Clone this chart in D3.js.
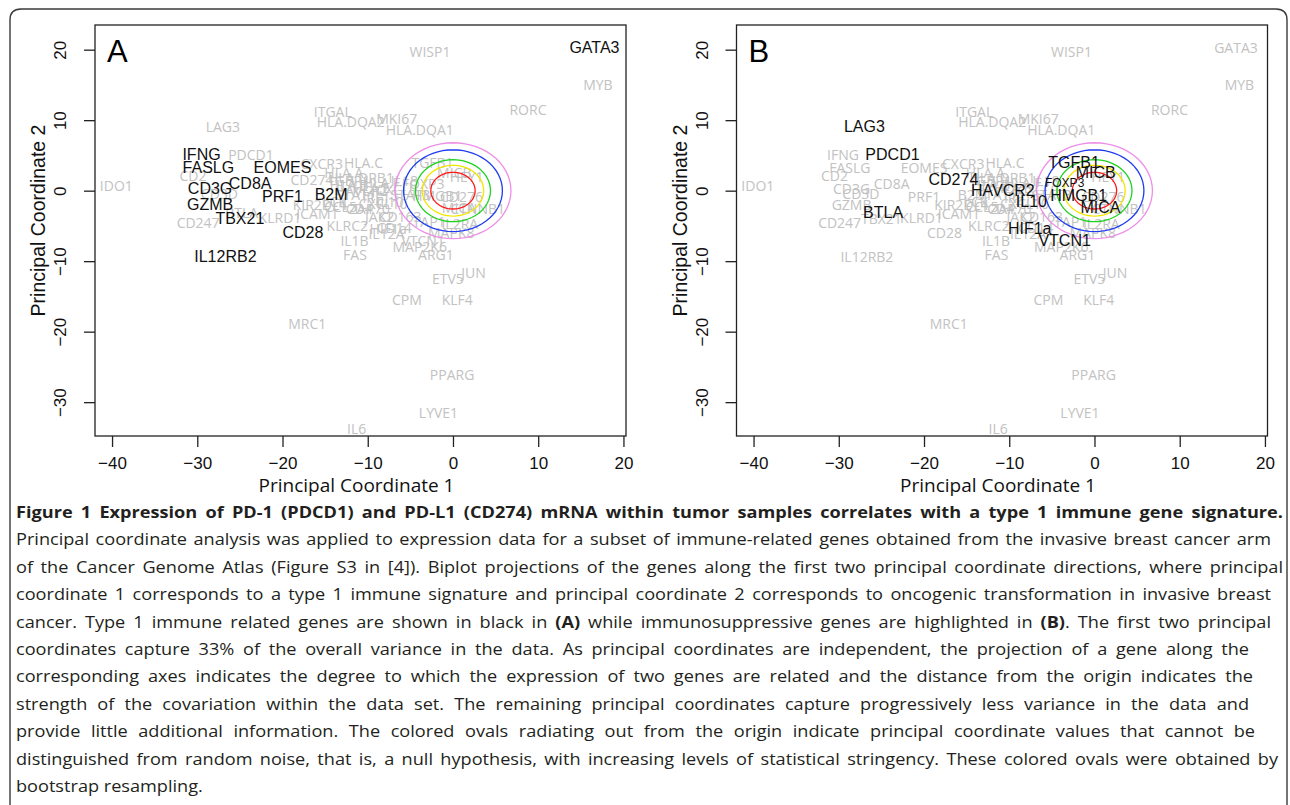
<!DOCTYPE html>
<html>
<head>
<meta charset="utf-8">
<script src="https://cdn.jsdelivr.net/npm/d3@7"></script>
<style>
  body { margin: 0; background: #fff; }
</style>
</head>
<body>
<svg id="fig" width="1290" height="805"></svg>
<script>
// axis ranges and ticks (R style, 4% padding)
const xDomain = [-42.0, 20.3]
const yDomain = [-34.8, 23.5]
const xTicks = [-40, -30, -20, -10, 0, 10, 20]
const yTicks = [-30, -20, -10, 0, 10, 20]

// gene projections on principal coordinates 1 and 2
const geneNames = [
  "IDO1", "LAG3", "IFNG", "PDCD1", "FASLG", "EOMES", "CD2", "CD8A", "CD3G", "CD3D",
  "GZMB", "BTLA", "TBX21", "CD247", "KLRD1", "PRF1", "CD28", "IL12RB2", "CD274", "CXCR3",
  "HLA.C", "HLA.A", "HLA.DRB1", "B2M", "ICAM1", "HAVCR2", "IL10", "HLA.B", "HLA.E", "HLA.F",
  "STAT1", "IRF1", "CXCL9", "CXCL10", "GBP1", "KIR2DL4", "CCL5", "CD4", "LCK", "ZAP70",
  "JAK2", "CD163", "IL18", "STAT3", "KLRC2", "IL1B", "FAS", "HIF1a", "IL12A", "CD14",
  "VTCN1", "MAP2K6", "MAPK8", "ARG1", "TAP1", "IL2RA", "TGFB1", "MICB", "FOXP3", "HMGB1",
  "MICA", "HEY1", "CD276", "CTNNB1", "ITGAL", "HLA.DQA2", "MKI67", "HLA.DQA1", "WISP1", "GATA3",
  "MYB", "RORC", "JUN", "ETV5", "CPM", "KLF4", "MRC1", "PPARG", "LYVE1", "IL6"
]
const geneX = [
  -39.5, -27.0, -29.5, -23.7, -28.7, -20.0, -30.5, -23.8, -28.5, -27.4,
  -28.5, -24.8, -25.0, -29.9, -20.3, -20.0, -17.6, -26.7, -16.55, -15.4,
  -10.5, -12.8, -10.8, -14.3, -15.9, -10.75, -7.4, -12.2, -9.6, -8.4,
  -11.4, -9.0, -6.6, -8.2, -11.8, -15.6, -13.2, -11.0, -13.9, -9.8,
  -8.6, -6.2, -5.7, -5.0, -12.4, -11.55, -11.5, -7.6, -7.8, -6.9,
  -3.5, -3.9, -0.2, -2.0, -2.8, 0.8, -2.4, 0.15, -3.5, -1.85,
  0.7, 1.6, 1.0, 2.9, -14.1, -12.0, -6.6, -3.9, -2.7, 16.6,
  17.0, 8.8, 2.4, -0.6, -5.4, 0.5, -17.1, -0.1, -1.7, -11.3
]
const geneY = [
  0.7, 9.1, 5.2, 5.15, 3.3, 3.3, 2.1, 1.0, 0.25, -0.45,
  -1.9, -3.1, -3.9, -4.45, -3.75, -0.85, -5.9, -9.4, 1.6, 3.9,
  4.0, 2.6, 1.9, -0.6, -3.3, 0.0, -1.5, 0.9, 0.4, 1.2,
  -0.6, -0.9, 0.2, -1.8, 1.5, -2.0, -2.3, -2.6, -1.5, -2.6,
  -3.6, -3.6, 1.5, -0.5, -4.95, -7.1, -9.1, -5.3, -6.1, -5.2,
  -7.0, -7.9, -6.0, -9.0, -4.4, -4.6, 3.95, 2.55, 1.05, -0.7,
  -2.35, 2.0, -0.85, -2.5, 11.2, 9.8, 10.3, 8.7, 19.7, 20.3,
  15.0, 11.5, -11.6, -12.4, -15.5, -15.5, -18.9, -26.1, -31.4, -33.7
]

// genes shown in black in each panel
const typeOneGenes = ["IFNG", "FASLG", "EOMES", "CD8A", "CD3G", "PRF1", "B2M", "GZMB",
  "TBX21", "CD28", "IL12RB2", "GATA3"]
const suppressiveGenes = ["LAG3", "PDCD1", "CD274", "BTLA", "HAVCR2", "IL10", "HIF1a",
  "VTCN1", "TGFB1", "MICB", "FOXP3", "HMGB1", "MICA"]

// bootstrap null ovals (radius in PC units, innermost first)
const ovalRadii = [2.6, 3.6, 4.4, 5.8, 6.8]
const ovalColors = ["#ff1a1a", "#f2e600", "#1fd21f", "#1f3cf0", "#ee8ee8"]

const captionTitle = "Figure 1 Expression of PD-1 (PDCD1) and PD-L1 (CD274) mRNA within tumor samples correlates with a type 1 immune gene signature."
const captionLines = [
  "Principal coordinate analysis was applied to expression data for a subset of immune-related genes obtained from the invasive breast cancer arm",
  "of the Cancer Genome Atlas (Figure S3 in [4]). Biplot projections of the genes along the first two principal coordinate directions, where principal",
  "coordinate 1 corresponds to a type 1 immune signature and principal coordinate 2 corresponds to oncogenic transformation in invasive breast",
  "cancer. Type 1 immune related genes are shown in black in |(A)| while immunosuppressive genes are highlighted in |(B)|. The first two principal",
  "coordinates capture 33% of the overall variance in the data. As principal coordinates are independent, the projection of a gene along the",
  "corresponding axes indicates the degree to which the expression of two genes are related and the distance from the origin indicates the",
  "strength of the covariation within the data set. The remaining principal coordinates capture progressively less variance in the data and",
  "provide little additional information. The colored ovals radiating out from the origin indicate principal coordinate values that cannot be",
  "distinguished from random noise, that is, a null hypothesis, with increasing levels of statistical stringency. These colored ovals were obtained by",
  "bootstrap resampling."
]
// right edge of each justified line (last line is ragged)
const captionEnds = [1283, 1271, 1283, 1271, 1271, 1249, 1253, 1249, 1255, 1278, null]

const genes = geneNames.map((name, i) => ({ name, x: geneX[i], y: geneY[i] }))

const svg = d3.select("#fig")

// outer figure frame with rounded top corners
svg.append("path")
  .attr("d", "M10,840 V20 Q10,9 21,9 H1276 Q1287,9 1287,20 V840")
  .attr("fill", "none")
  .attr("stroke", "#3a3a3a")
  .attr("stroke-width", 1.4)

const panels = [
  { letter: "A", highlight: typeOneGenes, offset: 0 },
  { letter: "B", highlight: suppressiveGenes, offset: 641.5 }
]

const box = { left: 95, right: 626, top: 25, bottom: 436 }

panels.forEach((p) => {
  const g = svg.append("g").attr("transform", `translate(${p.offset},0)`)
  const x = d3.scaleLinear().domain(xDomain).range([box.left, box.right])
  const y = d3.scaleLinear().domain(yDomain).range([box.bottom, box.top])

  const plot = g.append("g")

  // gray genes first
  plot.selectAll("text.gray")
    .data(genes.filter((d) => !p.highlight.includes(d.name)))
    .enter()
    .append("text")
    .attr("class", "gray")
    .attr("x", (d) => x(d.x))
    .attr("y", (d) => y(d.y))
    .attr("text-anchor", "middle")
    .attr("dominant-baseline", "central")
    .attr("font-family", "'Open Sans', sans-serif")
    .attr("font-size", 14)
    .attr("fill", "#c2c2c2")
    .text((d) => d.name)

  // null ovals
  const ovalLine = d3.line().x((d) => x(d[0])).y((d) => y(d[1]))
  plot.selectAll("path.oval")
    .data(ovalRadii)
    .enter()
    .append("path")
    .attr("class", "oval")
    .attr("d", (r) => ovalLine(d3.range(0, 361, 6).map((a) => {
      const t = (a * Math.PI) / 180
      return [r * Math.cos(t), r * Math.sin(t)]
    })))
    .attr("fill", "none")
    .attr("stroke", (r, i) => ovalColors[i])
    .attr("stroke-width", 1.3)

  // highlighted genes on top
  plot.selectAll("text.black")
    .data(genes.filter((d) => p.highlight.includes(d.name)))
    .enter()
    .append("text")
    .attr("class", "black")
    .attr("x", (d) => x(d.x))
    .attr("y", (d) => y(d.y))
    .attr("text-anchor", "middle")
    .attr("dominant-baseline", "central")
    .attr("font-family", "'Liberation Sans', Arial, sans-serif")
    .attr("font-size", (d) => (d.name === "FOXP3" ? 12 : 16))
    .attr("fill", "#111")
    .text((d) => d.name)

  // plot box
  g.append("rect")
    .attr("x", box.left)
    .attr("y", box.top)
    .attr("width", box.right - box.left)
    .attr("height", box.bottom - box.top)
    .attr("fill", "none")
    .attr("stroke", "#222")
    .attr("stroke-width", 1.3)

  // x axis
  const xa = g.append("g")
    .attr("transform", `translate(0,${box.bottom})`)
    .call(d3.axisBottom(x).tickValues(xTicks).tickSize(11).tickSizeOuter(0))
  xa.select(".domain").remove()
  xa.selectAll(".tick line").attr("stroke", "#222").attr("stroke-width", 1.3)
  xa.selectAll(".tick text")
    .attr("y", 33)
    .attr("dy", 0)
    .attr("font-family", "'Liberation Sans', Arial, sans-serif")
    .attr("font-size", 17)
    .attr("fill", "#111")

  // y axis, labels rotated like R's default las
  const ya = g.append("g")
    .attr("transform", `translate(${box.left},0)`)
    .call(d3.axisLeft(y).tickValues(yTicks).tickSize(11).tickSizeOuter(0))
  ya.select(".domain").remove()
  ya.selectAll(".tick line").attr("stroke", "#222").attr("stroke-width", 1.3)
  ya.selectAll(".tick text")
    .attr("transform", "rotate(-90)")
    .attr("x", 0)
    .attr("y", -29)
    .attr("dy", 0)
    .attr("text-anchor", "middle")
    .attr("font-family", "'Liberation Sans', Arial, sans-serif")
    .attr("font-size", 17)
    .attr("fill", "#111")

  // axis titles
  g.append("text")
    .attr("x", (box.left + box.right) / 2 - 4)
    .attr("y", 492)
    .attr("text-anchor", "middle")
    .attr("font-family", "'Open Sans', sans-serif")
    .attr("font-size", 19)
    .attr("fill", "#111")
    .text("Principal Coordinate 1")

  g.append("text")
    .attr("transform", `translate(45,${(box.top + box.bottom) / 2 - 10}) rotate(-90)`)
    .attr("text-anchor", "middle")
    .attr("font-family", "'Liberation Sans', Arial, sans-serif")
    .attr("font-size", 19.5)
    .attr("fill", "#111")
    .text("Principal Coordinate 2")

  // panel letter
  g.append("text")
    .attr("x", box.left + 12)
    .attr("y", box.top + 37)
    .attr("font-family", "'Liberation Sans', Arial, sans-serif")
    .attr("font-size", 31)
    .attr("fill", "#000")
    .text(p.letter)
})

// caption, slightly wide glyphs and justified lines like the journal layout
const stretch = 1.1
const cap = svg.append("g")
  .attr("font-family", "'Open Sans', sans-serif")
  .attr("font-size", 16.5)
  .attr("fill", "#231f20")

const allLines = [captionTitle, ...captionLines]
allLines.forEach((line, i) => {
  const t = cap.append("text")
    .attr("transform", `translate(16,${518 + i * 27.4}) scale(${stretch},1)`)
  if (i === 0) {
    t.attr("font-weight", 700).text(line)
  } else {
    line.split("|").forEach((part, k) => {
      t.append("tspan")
        .attr("font-weight", k % 2 === 1 ? 700 : 400)
        .text(part)
    })
  }
  const end = captionEnds[i]
  if (end) {
    const natural = t.node().getComputedTextLength()
    const spaces = line.split(" ").length - 1
    const extra = (end - 16) / stretch - natural
    if (spaces > 0 && extra > 0) t.style("word-spacing", `${extra / spaces}px`)
  }
})
</script>
</body>
</html>
